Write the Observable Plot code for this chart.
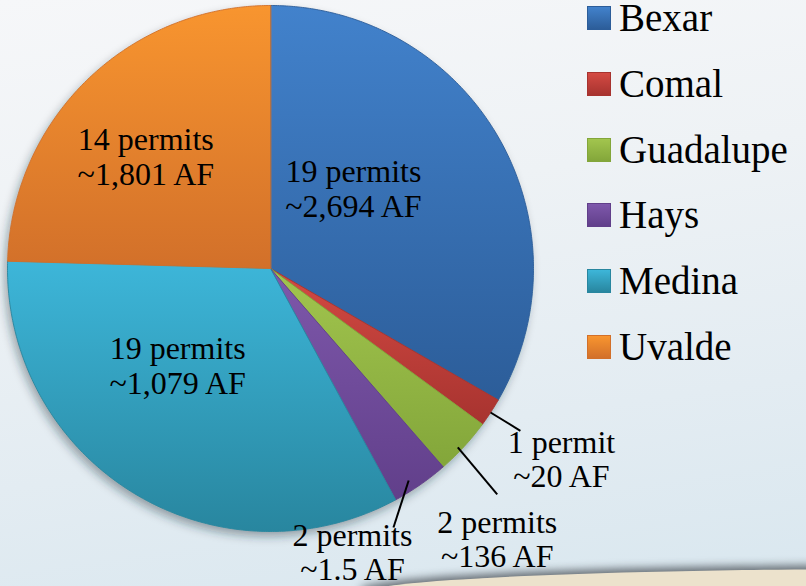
<!DOCTYPE html>
<html><head><meta charset="utf-8">
<script src="https://cdn.jsdelivr.net/npm/d3@7"></script>
<script src="https://cdn.jsdelivr.net/npm/@observablehq/plot@0.6"></script>
<style>
html,body{margin:0;padding:0;}
body{width:806px;height:586px;overflow:hidden;position:relative;
  background:linear-gradient(172deg,#f6f7f9 0%,#eef2f5 35%,#e3ecf2 70%,#d9e7ef 100%);
  font-family:"Liberation Serif",serif;}
#band{position:absolute;left:360px;top:569px;width:1080px;height:50px;border-radius:50%;
  background:#ece2cc;box-shadow:0 -4px 9px rgba(40,45,50,0.65);}
#chart{position:absolute;left:0;top:0;}
#legend{position:absolute;left:587px;top:6px;}
.row{position:absolute;left:0;height:24px;display:flex;align-items:center;white-space:nowrap;}
.sw{width:24px;height:24px;box-sizing:border-box;}
.lab{font-size:39px;line-height:24px;margin-left:8px;color:#000;}
</style></head><body>
<div id="band"></div>
<div id="chart"></div>
<div id="legend"></div>
<script>
// ---- data ----
const counties = ["Bexar", "Comal", "Guadalupe", "Hays", "Medina", "Uvalde"];
const permits  = [19, 1, 2, 2, 19, 14];
const acreFeet = ["2,694", "20", "136", "1.5", "1,079", "1,801"];

// ---- styles ----
const lightColors = ["#4282cc", "#d44a43", "#a2c54e", "#7e58ab", "#3db6d9", "#f8952f"];
const darkColors  = ["#2c5d99", "#a7332f", "#83a63a", "#613f8a", "#28869f", "#d2702a"];

// label layout (pixel offsets / polar anchors)
const insideLayout = {
  Bexar:  {dx: -31, dy: -14},
  Medina: {dx: -24, dy: -15},
  Uvalde: {dx: -33, dy: -18}
};
const outsideLayout = {
  Comal:     {a0: 123.2, r0: 1.0,   a1: 123.0, r1: 1.133, dx: 41,  dy: 28.5},
  Guadalupe: {a0: 133.7, r0: 0.985, a1: 134.9, r1: 1.217, dx: 0,   dy: 45},
  Hays:      {a0: 146.9, r0: 0.962, a1: 154.6, r1: 1.09,  dx: -41, dy: 25}
};

const rows = counties.map((name, i) => ({
  name, permits: permits[i], af: acreFeet[i],
  label: `${permits[i]} ${permits[i] === 1 ? "permit" : "permits"}\n~${acreFeet[i]} AF`
}));
const arcs = d3.pie().sort(null).value(d => d.permits)(rows);
const deg = Math.PI / 180;
const polar = (a, r) => ({x: r * Math.sin(a), y: r * Math.cos(a)});

const slicePolys = arcs.map(a => {
  const n = Math.max(2, Math.ceil((a.endAngle - a.startAngle) / (0.5 * deg)));
  const pts = [{x: 0, y: 0}];
  for (let k = 0; k <= n; k++) {
    const t = a.startAngle + (a.endAngle - a.startAngle) * k / n;
    pts.push(polar(t, 1));
  }
  return pts;
});
const circlePts = d3.range(0, 721).map(k => polar(k * 0.5 * deg, 1));

const defsMark = () => {
  const ns = "http://www.w3.org/2000/svg";
  const defs = document.createElementNS(ns, "defs");
  counties.forEach((c, i) => {
    const g = document.createElementNS(ns, "linearGradient");
    g.setAttribute("id", "grad-" + c);
    g.setAttribute("x1", 0); g.setAttribute("y1", 0);
    g.setAttribute("x2", 0); g.setAttribute("y2", 1);
    [[0, lightColors[i]], [1, darkColors[i]]].forEach(([o, col]) => {
      const s = document.createElementNS(ns, "stop");
      s.setAttribute("offset", o); s.setAttribute("stop-color", col);
      g.appendChild(s);
    });
    defs.appendChild(g);
  });
  const f = document.createElementNS(ns, "filter");
  f.setAttribute("id", "pieShadow");
  f.setAttribute("x", "-20%"); f.setAttribute("y", "-20%");
  f.setAttribute("width", "140%"); f.setAttribute("height", "140%");
  const b = document.createElementNS(ns, "feGaussianBlur");
  b.setAttribute("stdDeviation", 5);
  f.appendChild(b);
  defs.appendChild(f);
  return defs;
};

const marks = [defsMark];
marks.push(Plot.line(circlePts, {x: "x", y: "y", fill: "#1e2c38", fillOpacity: 0.4, stroke: "none", curve: "linear-closed", dx: -3, dy: 5}));
counties.forEach((c, i) => {
  marks.push(Plot.line(slicePolys[i], {x: "x", y: "y", fill: `url(#grad-${c})`, stroke: darkColors[i], strokeWidth: 1, strokeOpacity: 0.9, curve: "linear-closed"}));
});
arcs.forEach(a => {
  const name = a.data.name;
  if (insideLayout[name]) {
    const mid = (a.startAngle + a.endAngle) / 2;
    const p = polar(mid, 0.5);
    const L = insideLayout[name];
    marks.push(Plot.text([{...p, label: a.data.label}], {x: "x", y: "y", text: "label", fontSize: 32, lineHeight: 1.094, fontFamily: "Liberation Serif", fill: "#000", dx: L.dx, dy: L.dy}));
  } else if (outsideLayout[name]) {
    const L = outsideLayout[name];
    const p0 = polar(L.a0 * deg, L.r0), p1 = polar(L.a1 * deg, L.r1);
    marks.push(Plot.link([{x1: p0.x, y1: p0.y, x2: p1.x, y2: p1.y}], {x1: "x1", y1: "y1", x2: "x2", y2: "y2", stroke: "#000", strokeWidth: 2}));
    marks.push(Plot.text([{...p1, label: a.data.label}], {x: "x", y: "y", text: "label", fontSize: 32, lineHeight: 1.06, fontFamily: "Liberation Serif", fill: "#000", dx: L.dx, dy: L.dy}));
  }
});

const chart = Plot.plot({
  width: 806, height: 586, margin: 0,
  x: {domain: [-1, 1], range: [7, 533], axis: null},
  y: {domain: [-1, 1], range: [531, 5], axis: null},
  style: {background: "transparent", overflow: "visible"},
  marks
});
const lineGroups = chart.querySelectorAll('g[aria-label="line"]');
if (lineGroups.length) lineGroups[0].setAttribute("filter", "url(#pieShadow)");
document.getElementById("chart").appendChild(chart);

// legend
const legend = document.getElementById("legend");
counties.forEach((c, i) => {
  const row = document.createElement("div");
  row.className = "row";
  row.style.top = (i * 65.8) + "px";
  const sw = document.createElement("div");
  sw.className = "sw";
  sw.style.background = `linear-gradient(180deg, ${lightColors[i]}, ${darkColors[i]})`;
  sw.style.border = `1px solid ${darkColors[i]}`;
  const lab = document.createElement("span");
  lab.className = "lab";
  lab.textContent = c;
  row.appendChild(sw); row.appendChild(lab);
  legend.appendChild(row);
});
</script></body></html>
